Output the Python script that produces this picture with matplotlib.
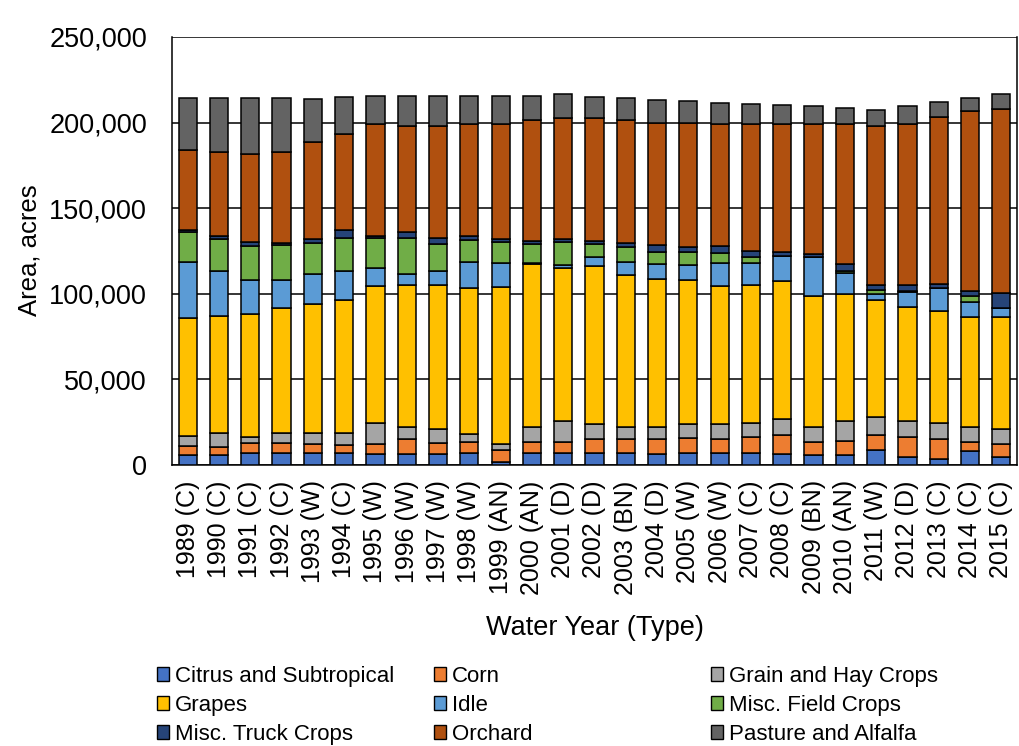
import matplotlib
matplotlib.use("Agg")
import matplotlib.pyplot as plt
import numpy as np
from matplotlib.patches import Patch

plt.rcParams['font.family'] = ['Liberation Sans', 'DejaVu Sans']

years = ["1989 (C)", "1990 (C)", "1991 (C)", "1992 (C)", "1993 (W)", "1994 (C)",
         "1995 (W)", "1996 (W)", "1997 (W)", "1998 (W)", "1999 (AN)", "2000 (AN)",
         "2001 (D)", "2002 (D)", "2003 (BN)", "2004 (D)", "2005 (W)", "2006 (W)",
         "2007 (C)", "2008 (C)", "2009 (BN)", "2010 (AN)", "2011 (W)", "2012 (D)",
         "2013 (C)", "2014 (C)", "2015 (C)"]

citrus = [5800, 5800, 7200, 7200, 7200, 7200, 6400, 6400, 6400, 6800, 2000, 7200, 6800,
          6800, 7200, 6400, 6800, 6800, 6800, 6400, 5800, 5800, 8700, 4500, 3500, 8200, 4500]
corn = [5200, 4900, 5400, 5400, 5000, 4400, 5800, 8600, 6200, 6600, 7000, 6400, 6600,
        8200, 7800, 8600, 8900, 8200, 9300, 11100, 7800, 8200, 8800, 12000, 11500, 5400, 7700]
grain = [5900, 7800, 3900, 5900, 6300, 6900, 12500, 7300, 8200, 4500, 3000, 8700, 12400,
         8700, 7300, 7300, 8000, 8700, 8200, 9100, 8700, 11600, 10700, 9300, 9700, 8700, 8600]
grapes = [69100, 68500, 71800, 73300, 75300, 77600, 79800, 83100, 84600, 85200, 91900, 95200, 89000,
          92300, 88600, 86100, 84100, 80800, 81100, 80800, 76200, 74000, 67900, 66400, 65200, 64100, 65600]
idle = [32700, 26600, 19500, 16000, 17500, 17500, 10300, 5900, 8200, 15600, 14100, 500, 1900,
        5300, 7500, 9000, 9000, 13300, 12600, 14600, 22800, 12400, 3500, 8800, 13600, 8900, 5100]
misc_field = [17300, 18400, 20300, 20700, 18400, 19000, 17600, 21300, 15500, 12700, 12100, 11100, 13400,
              7800, 8700, 6800, 7400, 5800, 3300, 300, 200, 1500, 2900, 500, 0, 3300, 0]
misc_truck = [1300, 2000, 1900, 1000, 2300, 4900, 1600, 3400, 3300, 2600, 1900, 1900, 1900,
              1900, 2400, 4300, 3300, 4500, 3500, 1900, 1700, 3700, 2900, 3900, 2300, 2900, 9100]
orchard = [46600, 48900, 51500, 53600, 56700, 55700, 65000, 62000, 65600, 65400, 67400, 70400, 70900,
           71900, 71900, 71500, 72500, 70900, 74200, 74800, 75800, 81800, 92600, 93600, 97500, 105300, 107200]
pasture = [30300, 31300, 32700, 31100, 24900, 21900, 16500, 17500, 17500, 16100, 16100, 14100, 13600,
           12300, 12800, 13000, 12600, 12700, 11700, 11300, 10700, 9400, 9200, 10700, 8900, 7800, 8700]

series_names = ["Citrus and Subtropical", "Corn", "Grain and Hay Crops", "Grapes", "Idle",
                "Misc. Field Crops", "Misc. Truck Crops", "Orchard", "Pasture and Alfalfa"]
series_values = [citrus, corn, grain, grapes, idle, misc_field, misc_truck, orchard, pasture]
colors = ["#4472C4", "#ED7D31", "#A5A5A5", "#FFC000", "#5B9BD5",
          "#70AD47", "#264478", "#B0500F", "#636363"]

fig = plt.figure(figsize=(10.19, 7.46), dpi=100)
ax = fig.add_axes([172/1019, 1-465/746, (1017-172)/1019, (465-37)/746])

x = np.arange(len(years))
bottom = np.zeros(len(years))
for name, vals, col in zip(series_names, series_values, colors):
    v = np.array(vals, dtype=float)
    ax.bar(x, v, bottom=bottom, width=0.58, color=col, edgecolor="black",
           linewidth=1.1, label=name, zorder=3)
    bottom += v

ax.set_xlim(-0.5, len(years)-0.5)
ax.set_ylim(0, 250000)
ax.set_yticks(np.arange(0, 250001, 50000))
ax.set_yticklabels([f"{int(t):,}" for t in np.arange(0, 250001, 50000)], fontsize=19.5)
ax.set_xticks(x)
ax.set_xticklabels(years, rotation=90, fontsize=18)
ax.tick_params(axis='both', length=0)
ax.tick_params(axis='y', pad=18)
ax.tick_params(axis='x', pad=11)
ax.yaxis.grid(True, color="black", linewidth=1.1, zorder=0)
ax.set_axisbelow(True)
for s in ax.spines.values():
    s.set_color("black")
    s.set_linewidth(1.1)
ax.spines['top'].set_visible(False)

fig.text(595/1019, 1-628/746, "Water Year (Type)", ha="center", va="center", fontsize=19.5)
fig.text(30/1019, 1-250/746, "Area, acres", ha="center", va="center", rotation=90, fontsize=18.5)

handles = [Patch(facecolor=c, edgecolor="black", linewidth=1.0) for c in colors]
col_x = [157, 434, 711]
for ci in range(3):
    idxs = [ci, ci+3, ci+6]
    fig.legend([handles[i] for i in idxs], [series_names[i] for i in idxs],
               loc="upper left", bbox_to_anchor=(col_x[ci]/1019, 1-666/746),
               frameon=False, fontsize=16, handlelength=0.55, handleheight=0.55,
               handletextpad=0.25, labelspacing=0.36, borderpad=0, borderaxespad=0)

fig.savefig("out.png", dpi=100)
